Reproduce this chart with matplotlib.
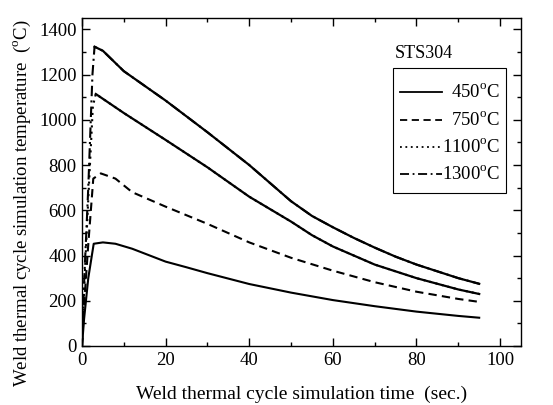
import numpy as np
import matplotlib as mpl
mpl.use("Agg")
import matplotlib.pyplot as plt
from matplotlib.lines import Line2D
from matplotlib.patches import Rectangle
from matplotlib.ticker import MultipleLocator

mpl.rcParams.update({
    "font.family": ["Liberation Serif", "DejaVu Serif"],
    "font.size": 13,
    "mathtext.fontset": "custom",
    "mathtext.rm": "Liberation Serif",
    "axes.linewidth": 1.0,
    "xtick.direction": "in",
    "ytick.direction": "in",
    "xtick.top": True,
    "ytick.right": True,
})

# ── Data ──
labels = ["450$^{\\rm o}$C", "750$^{\\rm o}$C", "1100$^{\\rm o}$C", "1300$^{\\rm o}$C"]
styles = ["-", (0, (4, 2.5)), (0, (1, 2)), (0, (5, 2, 1, 2))]

t_450 = [0, 0.5, 1.5, 2.8, 5, 8, 12, 20, 25, 30, 40, 50, 60, 70, 80, 90, 95]
T_450 = [0, 120, 300, 452, 458, 452, 430, 373, 348, 322, 274, 236, 203, 176, 152, 133, 125]

t_750 = [0, 0.5, 1.5, 2.7, 4.5, 8, 10, 12, 20, 30, 40, 50, 60, 70, 80, 90, 95]
T_750 = [0, 180, 450, 740, 763, 740, 710, 680, 616, 540, 458, 390, 333, 282, 240, 208, 195]

t_1100 = [0, 0.5, 1.5, 2.6, 3.3, 10, 20, 30, 40, 50, 55, 60, 70, 80, 90, 95]
T_1100 = [0, 250, 650, 1060, 1114, 1030, 911, 790, 660, 550, 490, 440, 360, 300, 250, 230]

t_1300 = [0, 0.5, 1.5, 2.5, 3.0, 5, 10, 20, 30, 40, 45, 50, 55, 60, 65, 70, 75, 80, 85, 90, 95]
T_1300 = [0, 280, 700, 1200, 1323, 1305, 1215, 1085, 945, 800, 720, 640, 575, 525, 478, 435, 395, 360, 330, 300, 275]

series = [(t_450, T_450), (t_750, T_750), (t_1100, T_1100), (t_1300, T_1300)]

fig = plt.figure(figsize=(5.53, 4.05), dpi=100)
ax = fig.add_axes([82 / 553, 1 - 346 / 405, (521 - 82) / 553, (346 - 18) / 405])

for (t, T), ls, lab in zip(series, styles, labels):
    t = np.array(t)
    T = np.array(T)
    ax.plot(t, T, color="black", lw=1.5, linestyle=ls)
    if lab.startswith("11") or lab.startswith("13"):
        # densely sampled decay looks solid in the original
        k = int(np.argmax(T))
        ax.plot(t[k:], T[k:], color="black", lw=1.6, linestyle="-")

ax.set_xlim(0, 105)
ax.set_ylim(0, 1450)
ax.xaxis.set_major_locator(MultipleLocator(20))
ax.xaxis.set_minor_locator(MultipleLocator(10))
ax.yaxis.set_major_locator(MultipleLocator(200))
ax.yaxis.set_minor_locator(MultipleLocator(100))
ax.tick_params(which="major", length=6, width=1.0, labelsize=13.5, pad=4)
ax.tick_params(which="minor", length=3, width=1.0)

ax.set_xlabel("Weld thermal cycle simulation time  (sec.)", fontsize=14, labelpad=12)
ax.set_ylabel("Weld thermal cycle simulation temperature  ($^{\\rm o}$C)", fontsize=13.5)
ax.yaxis.set_label_coords(-0.112, 0.435)

# legend box drawn in axes coordinates, labels right-aligned as in the original
ax.add_patch(Rectangle((0.708, 0.466), 0.258, 0.382, transform=ax.transAxes,
                       fill=False, edgecolor="black", lw=0.8))
entry_y = [0.775, 0.69, 0.607, 0.524]
for ls, lab, yy in zip(styles, labels, entry_y):
    ax.add_line(Line2D([0.724, 0.82], [yy, yy], transform=ax.transAxes,
                       color="black", lw=1.3, linestyle=ls))
    ax.text(0.953, yy, lab, transform=ax.transAxes, ha="right", va="center", fontsize=13.5)

ax.text(0.713, 0.893, "STS304", transform=ax.transAxes, fontsize=13, ha="left", va="center")

fig.savefig("out.png", dpi=100)
